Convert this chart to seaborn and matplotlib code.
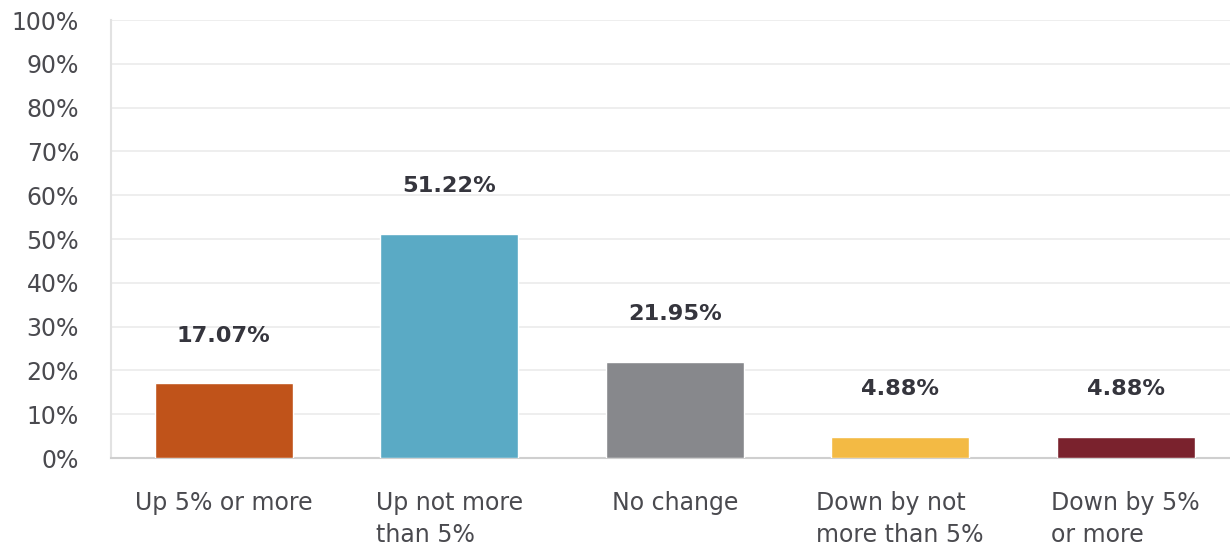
import matplotlib
matplotlib.use("Agg")
import matplotlib.pyplot as plt
import seaborn as sns
import pandas as pd
from matplotlib.ticker import FuncFormatter, MultipleLocator

categories = ["Up 5% or more", "Up not more\nthan 5%", "No change",
              "Down by not\nmore than 5%", "Down by 5%\nor more"]
values = [17.07, 51.22, 21.95, 4.88, 4.88]
colors = ["#C0531A", "#5AAAC5", "#87888C", "#F3BA44", "#7A222D"]

sns.set_theme(style="white")
plt.rcParams['font.family'] = ['DejaVu Sans']

df = pd.DataFrame({"cat": categories, "val": values})

fig = plt.figure(figsize=(12.3, 5.45), dpi=100)
ax = fig.add_axes([0.0902, 0.1596, 0.9167, 0.8037])

sns.barplot(data=df, x="cat", y="val", hue="cat", palette=colors,
            width=0.612, legend=False, ax=ax, saturation=1, zorder=3)

ax.set_ylim(0, 100)
ax.yaxis.set_major_locator(MultipleLocator(10))
ax.yaxis.set_major_formatter(FuncFormatter(lambda v, p: f"{int(v)}%"))
ax.grid(axis="y", color="#ebebeb", linewidth=1.2, zorder=0)
ax.set_axisbelow(True)
ax.set_xlabel("")
ax.set_ylabel("")

for s in ["top", "right"]:
    ax.spines[s].set_visible(False)
ax.spines["left"].set_color("#e2e2e2")
ax.spines["left"].set_linewidth(1.5)
ax.spines["bottom"].set_color("#cfcfcf")
ax.spines["bottom"].set_linewidth(1.5)

ax.tick_params(axis="y", length=0, pad=23, labelsize=17, labelcolor="#4a4a4f")
ax.tick_params(axis="x", length=0, pad=24, labelsize=17, labelcolor="#4a4a4f")
for lbl in ax.get_xticklabels():
    lbl.set_multialignment("left")
    lbl.set_linespacing(1.42)

for i, v in enumerate(values):
    ax.annotate(f"{v:.2f}%", xy=(i, v), xytext=(0, 27), textcoords="offset points",
                ha="center", va="bottom", fontsize=16.2, fontweight="bold",
                color="#35353d")

fig.savefig("out.png", dpi=100)
